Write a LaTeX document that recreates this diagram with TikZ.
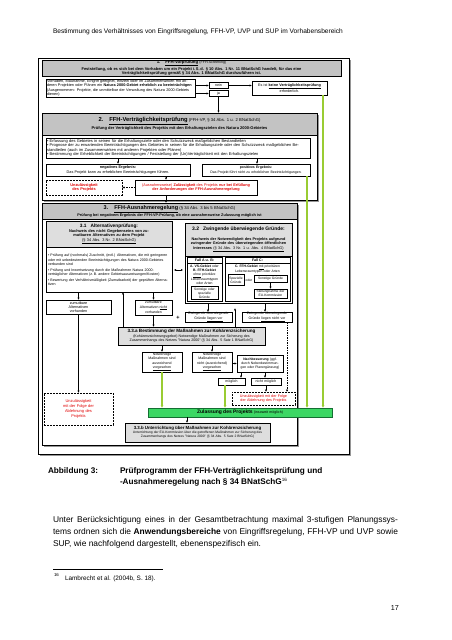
\documentclass[tikz,border=0pt]{standalone}
\usepackage{fontspec}
\setmainfont{Liberation Sans}
\usetikzlibrary{arrows.meta}
\definecolor{hdrgray}{RGB}{195,195,195}
\definecolor{lgray}{RGB}{222,222,222}
\definecolor{shgray}{RGB}{150,150,150}
\definecolor{lgreen}{RGB}{153,204,51}
\definecolor{zgreen}{RGB}{60,215,100}
\definecolor{dgreen}{RGB}{20,110,50}
\definecolor{ured}{RGB}{225,0,0}
\newcommand\fz[2]{\fontsize{#1pt}{#2pt}\selectfont}
\newcommand\mkbox[7]{%
 \pgfmathsetmacro\bxw{(#4)-(#2)}%
 \pgfmathsetmacro\bxh{(#5)-(#3)}%
 \pgfmathsetmacro\bxcx{((#2)+(#4))/2}%
 \pgfmathsetmacro\bxcy{((#3)+(#5))/2}%
 \pgfmathsetmacro\bxtw{(#4)-(#2)-2}%
 \node[#6, minimum width=\bxw pt, minimum height=\bxh pt, text width=\bxtw pt] (#1) at (\bxcx,\bxcy) {#7};%
}
\newcommand\shad[4]{\fill[shgray] (#1+2,#2+2) rectangle (#3+2,#4+2);}
\begin{document}
\begin{tikzpicture}[x=1pt,y=-1pt,
 nb/.style={inner xsep=1pt, inner ysep=0.3pt, align=center, font=\fz{3.6}{4.3}, outer sep=0pt},
 bx/.style={nb, draw=black, line width=0.5pt},
 hb/.style={bx, fill=hdrgray},
 lb/.style={bx, fill=lgray},
 dbx/.style={nb, draw=black, line width=0.9pt, dash pattern=on 1.8pt off 1.2pt, text=ured, font=\fz{3.7}{4.4}},
 arr/.style={-{Latex[length=2.4pt,width=2.2pt]}, line width=0.6pt},
 darr/.style={arr, dash pattern=on 1.5pt off 1pt},
 garr/.style={-{Latex[length=3pt,width=3pt]}, draw=lgreen, line width=1.1pt, color=lgreen},
 txt/.style={anchor=base west, inner sep=0pt, outer sep=0pt}
]
\useasboundingbox (0,0) rectangle (452,640);
\fill[white] (0,0) rectangle (452,640);

% page header
\node[txt, font=\fz{6.6}{8}] (pghead) at (53,33) {Bestimmung des Verhältnisses von Eingriffsregelung, FFH-VP, UVP und SUP im Vorhabensbereich};

% outer frame
\shad{38}{58}{349}{454}
\mkbox{frame}{38}{58}{349}{454}{bx, fill=white, line width=0.7pt}{}

% ---------- section 1
\mkbox{s1h}{42}{60}{341}{76}{hb}{{\fz{4.3}{5}\bfseries 1.\hspace{5pt}\underline{FFH-Vorprüfung}}\ {\fz{3.6}{5}(FFH-Screening)}\\[0.6pt]{\fz{4}{4.8}\bfseries Feststellung, ob es sich bei dem Vorhaben um ein Projekt i.\,S.\,d. § 10 Abs. 1 Nr. 11 BNatSchG handelt, für das eine\\ Verträglichkeitsprüfung gemäß § 34 Abs. 1 BNatSchG durchzuführen ist.}}
\mkbox{s1q}{46}{79}{195}{97}{bx, line width=1pt, align=left, font=\fz{3.8}{4.2}}{Vorhaben, Maßnahme, Eingriff geeignet, einzeln oder im Zusammenwirken mit anderen Projekten oder Plänen ein \textbf{Natura 2000-Gebiet erheblich zu beeinträchtigen} (Ausgenommen: Projekte, die unmittelbar der Verwaltung des Natura 2000-Gebiets dienen)}
\mkbox{nein}{209}{82.5}{228}{88.5}{bx, line width=0.7pt}{nein}
\mkbox{ja}{209}{90.5}{228}{96.5}{bx, line width=0.7pt}{ja}
\mkbox{keine}{252}{81.5}{327}{95}{bx, line width=0.7pt, font=\fz{3.7}{4.6}}{Es ist \underline{\textbf{keine Verträglichkeitsprüfung}}\\ erforderlich.}
\draw[arr] (s1q.east |- nein) -- (nein.west);
\draw[arr] (s1q.east |- ja) -- (ja.west);
\draw[arr] (nein.east) -- (keine.west |- nein);

% ---------- section 2
\shad{42}{113}{317}{200}
\mkbox{s2}{42}{113}{317}{200}{bx, fill=white}{}
\mkbox{s2h}{42}{113}{317}{135}{hb}{{\fz{5.8}{7}\bfseries 2.\hspace{6pt}\underline{FFH-Verträglichkeitsprüfung}}\ {\fz{4.2}{7}(FFH-VP, § 34 Abs. 1 u. 2 BNatSchG)}\\[0.5pt]{\fz{4}{5}\bfseries Prüfung der Verträglichkeit des Projekts mit den Erhaltungszielen des Natura 2000-Gebietes}}
\draw[arr] (ja.south) -- (ja.south |- s2.north);
\mkbox{s2b}{46}{138}{310}{158}{bx, align=left, font=\fz{4}{4.5}}{\textbullet\ Erfassung des Gebietes in seinen für die Erhaltungsziele oder den Schutzzweck maßgeblichen Bestandteilen\\ \textbullet\ Prognose der zu erwartenden Beeinträchtigungen des Gebietes in seinen für die Erhaltungsziele oder den Schutzzweck maßgeblichen Bestandteilen (auch im Zusammenwirken mit anderen Projekten oder Plänen)\\ \textbullet\ Bestimmung der Erheblichkeit der Beeinträchtigungen / Feststellung der (Un)Verträglichkeit mit den Erhaltungszielen}
\mkbox{neg}{46}{164}{190}{176}{bx, font=\fz{3.8}{4.5}}{\textbf{negatives Ergebnis:}\\ Das Projekt kann zu erheblichen Beeinträchtigungen führen.}
\mkbox{pos}{202}{164}{310}{176}{bx, font=\fz{3.5}{4.4}}{\textbf{positives Ergebnis:}\\ Das Projekt führt nicht zu erheblichen Beeinträchtigungen.}
\coordinate (xn) at (118,0);
\coordinate (xp) at (257,0);
\draw[arr] (s2b.south -| xn) -- (neg.north -| xn);
\draw[arr] (s2b.south -| xp) -- (pos.north -| xp);
\mkbox{ub1}{46}{180}{122}{195}{dbx, font=\fz{3.9}{4.7}\bfseries}{Unzulässigkeit\\ des Projekts}
\mkbox{rb}{135}{180}{257}{195}{bx, text=ured, font=\fz{3.8}{4.8}}{(Ausnahmsweise) \textbf{Zulässigkeit} des Projekts \textbf{nur bei Erfüllung}\\ \textbf{der Anforderungen der FFH-Ausnahmeregelung}}
\coordinate (xr) at (166,0);
\draw[arr] (neg.south -| xr) -- (rb.north -| xr);
\draw[darr] (rb.west) -- (ub1.east);

% ---------- section 3
\shad{42}{203}{297}{445}
\mkbox{s3}{42}{203}{297}{445}{bx, fill=white}{}
\mkbox{s3h}{42}{203}{297}{219.5}{hb}{{\fz{5.5}{6.5}\bfseries 3.\hspace{6pt}\underline{FFH-Ausnahmeregelung}}\ {\fz{4.2}{6}(§ 34 Abs. 3 bis 5 BNatSchG)}\\[0.3pt]{\fz{3.8}{4.6}\bfseries Prüfung bei negativem Ergebnis der FFH-VP-Prüfung, ob eine ausnahmsweise Zulassung möglich ist}}
\draw[arr] (rb.south -| xr) -- (s3.north -| xr);

% 3.1
\mkbox{s31}{46}{221}{172}{292}{bx, fill=white}{}
\mkbox{s31h}{46}{221}{172}{247.5}{lb, font=\fz{3.9}{4.6}}{{\fz{4.8}{5.6}\bfseries 3.1\hspace{4pt}Alternativenprüfung:}\\ {\bfseries Nachweis des nicht Gegebenseins von zumutbaren Alternativen zu dem Projekt}\\ \underline{(§ 34 Abs. 3 Nr. 2 BNatSchG)}}
\mkbox{s31b}{47}{248}{171}{292}{nb, align=left, font=\fz{3.6}{4.3}}{\textbullet\ Prüfung auf (nochmals) Zuschnitt, (evtl.) Alternativen, die mit geringeren oder mit unbedeutenden Beeinträchtigungen des Natura 2000-Gebietes verbunden sind\\[1.5pt] \textbullet\ Prüfung und Inwertsetzung durch die Maßnahmen Natura 2000-verträglicher Alternativen (z.\,B. andere Gebietsausweisungen/Kosten)\\[1.5pt] \textbullet\ Bewertung der Verhältnismäßigkeit (Zumutbarkeit) der geprüften Alternativen}

% 3.2
\mkbox{s32}{185}{223}{292}{303}{bx, fill=white}{}
\mkbox{s32h}{185}{223}{292}{256}{lb, font=\fz{3.8}{4.6}}{{\fz{5}{6}\bfseries 3.2\hspace{4pt}Zwingende überwiegende Gründe:}\\[5pt]{\bfseries Nachweis der Notwendigkeit des Projekts aufgrund zwingender Gründe des überwiegenden öffentlichen Interesses} \underline{(§ 34 Abs. 3 Nr. 1 u. Abs. 4 BNatSchG)}}
\coordinate (lr) at (0,270);
\draw[{Latex[length=2pt,width=2pt]}-{Latex[length=2pt,width=2pt]}, line width=0.5pt, shorten <=2pt, shorten >=2pt] (s31.east |- lr) -- (s32.west |- lr);

% Fall A u. B
\mkbox{fab}{187}{257.5}{222}{301}{bx, fill=white}{}
\coordinate (fabl) at (187,263.5);
\draw[line width=0.5pt] (fabl) -- (fabl -| fab.east);
\node[nb, font=\fz{3.6}{4.3}\bfseries] (fabh) at (204.5,260.5) {Fall A u. B:};
\node[nb, font=\fz{3.4}{4}, text width=33pt] (fabt) at (204.5,275) {\textbf{A. VS-Gebiet} oder\\ \textbf{B. FFH-Gebiet}\\ \underline{ohne} prioritäre\\ Lebensraumtypen\\ oder Arten};
\mkbox{sog}{191}{286.5}{218}{299.5}{bx, line width=0.9pt, font=\fz{3.3}{4}}{Sonstige oder\\ spezielle\\ Gründe}

% Fall C
\mkbox{fc}{225}{257.5}{290}{301}{bx, fill=white}{}
\coordinate (fcl) at (225,263.5);
\draw[line width=0.5pt] (fcl) -- (fcl -| fc.east);
\node[nb, font=\fz{3.6}{4.3}\bfseries] (fch) at (257.5,260.5) {Fall C:};
\node[nb, font=\fz{3.4}{4}, text width=62pt] (fct) at (257.5,269.3) {\textbf{C. FFH-Gebiet} \underline{mit} prioritären\\ Lebensraumtypen oder Arten};
\mkbox{spg}{228}{274.5}{244}{285.5}{bx, line width=0.9pt, font=\fz{3.3}{4}}{Spezielle\\ Gründe}
\node[nb, font=\fz{3.3}{4}] (oder) at (249,280) {oder};
\mkbox{sg}{254}{275.5}{287}{282.5}{bx, line width=0.9pt, font=\fz{3.3}{4}}{Sonstige Gründe}
\mkbox{stn}{254}{289}{287}{298.5}{bx, line width=0.9pt, font=\fz{3.3}{4}}{Stellungnahme der\\ EU-Kommission}
\draw[arr] (sg.south) -- (stn.north);

% results of 3.1 / 3.2
\mkbox{zav}{46}{300}{111}{314}{bx, font=\fz{3.7}{4.3}}{zumutbare\\ Alternativen\\ vorhanden}
\mkbox{zan}{135}{300}{172}{315}{bx, font=\fz{3.5}{4.3}}{zumutbare\\ Alternativen \underline{nicht}\\ vorhanden}
\draw[arr] (s31.south -| zav) -- (zav.north);
\draw[arr] (s31.south -| zan) -- (zan.north);
\node[nb, font=\fz{5.5}{5.5}\bfseries] (plus) at (178,318) {+};
\mkbox{zgv}{185}{312}{232}{322}{bx, font=\fz{3.5}{4.3}}{Zwingende überwiegende\\ Gründe \underline{liegen vor}}
\mkbox{zgn}{242}{312}{292}{322}{bx, font=\fz{3.5}{4.3}}{Zwingende überwiegende\\ Gründe \underline{liegen nicht vor}}
\coordinate (xa) at (208,0);
\coordinate (xc) at (265,0);
\draw[arr] (s32.south -| xa) -- (zgv.north -| xa);
\draw[arr] (s32.south -| xc) -- (zgn.north -| xc);

% 3.3a
\mkbox{s33a}{118}{327}{265}{345}{lb, font=\fz{3.6}{4.4}}{{\fz{4.6}{5.6}\bfseries 3.3.a Bestimmung der Maßnahmen zur Kohärenzsicherung}\\ (Kohärenzsicherungsgebot) Notwendige Maßnahmen zur Sicherung des\\ Zusammenhangs des Netzes "Natura 2000" (§ 34 Abs. 5 Satz 1 BNatSchG)}
\draw[arr] (zan.south) -- (s33a.north -| zan);
\coordinate (xu) at (123,0);
\draw[arr] (s33a.north -| xu) -- (s31.south -| xu);
\coordinate (vtop) at (235,308);
\draw[arr] (s33a.north -| vtop) -- (vtop);

% measures
\mkbox{nma}{142}{352}{182}{372}{bx, font=\fz{3.5}{4.3}}{Notwendige\\ Maßnahmen sind\\ ausreichend\\ \underline{vorgesehen}}
\mkbox{nmb}{192}{352}{232}{372}{bx, font=\fz{3.5}{4.3}}{Notwendige\\ Maßnahmen sind\\ nicht (ausreichend)\\ \underline{vorgesehen}}
\draw[arr] (s33a.south -| nma) -- (nma.north);
\draw[arr] (s33a.south -| nmb) -- (nmb.north);
\mkbox{nachb}{237}{355}{283}{372}{bx, font=\fz{3.4}{4.2}}{\textbf{Nachbesserung} (ggf.\\ durch Nebenbestimmun-\\ gen oder Planergänzung)}
\draw[arr] (nmb.east |- nachb) -- (nachb.west);
\mkbox{mog}{218}{378}{245}{385}{bx, font=\fz{3.5}{4.3}}{möglich}
\mkbox{nmog}{251}{378}{281}{385}{bx, line width=1pt, font=\fz{3.5}{4.3}}{nicht möglich}
\coordinate (xm) at (241,0);
\coordinate (xnm) at (265,0);
\draw[arr] (nachb.south -| xm) -- (mog.north -| xm);
\draw[arr] (nachb.south -| xnm) -- (nmog.north -| xnm);
\mkbox{ub3}{232}{392}{295}{405}{dbx}{Unzulässigkeit mit der Folge\\ der Ablehnung des Projekts}
\draw[arr] (nmog.south) -- (ub3.north -| nmog);
\coordinate (xd) at (287,0);
\draw[darr] (zgn.south -| xd) -- (ub3.north -| xd);
\mkbox{ub2}{44}{393}{113}{425}{dbx, font=\fz{4}{4.8}}{Unzulässigkeit\\ mit der Folge der\\ Ablehnung des\\ Projekts}
\draw[arr] (zav.south) -- (ub2.north -| zav);

% Zulassung
\mkbox{zul}{148}{408}{332}{417}{bx, fill=zgreen, draw=dgreen, line width=0.7pt}{{\fz{5}{6}\bfseries Zulassung des Projekts} {\fz{3.6}{6}(insoweit möglich)}}
\coordinate (g1) at (162,0);
\coordinate (g2) at (225,0);
\coordinate (g3) at (307,0);
\coordinate (g4) at (323,0);
\draw[garr] (nma.south -| g1) -- (zul.north -| g1);
\draw[garr] (mog.south -| g2) -- (zul.north -| g2);
\draw[garr] (pos.south -| g3) -- (zul.north -| g3);
\draw[garr] (keine.south -| g4) -- (zul.north -| g4);

% 3.3b
\mkbox{s33b}{125}{423}{270}{442}{lb, font=\fz{3.3}{4}}{{\fz{4.4}{5.4}\bfseries 3.3.b Unterrichtung über Maßnahmen zur Kohärenzsicherung}\\ Unterrichtung der EU-Kommission über die getroffenen Maßnahmen zur Sicherung des\\ Zusammenhangs des Netzes "Natura 2000" (§ 34 Abs. 5 Satz 2 BNatSchG)}
\coordinate (xz) at (187,0);
\draw[arr] (zul.south -| xz) -- (s33b.north -| xz);

% caption
\node[txt, font=\fz{8.2}{10}\bfseries] (cap1) at (48,473) {Abbildung 3:};
\node[txt, font=\fz{8.2}{10}\bfseries] (cap2) at (120,473) {Prüfprogramm der FFH-Verträglichkeitsprüfung und};
\node[txt, font=\fz{8.2}{10}\bfseries] (cap3) at (120,484) {-Ausnahmeregelung nach § 34 BNatSchG\textsuperscript{\fz{4.6}{5}\mdseries 16}};

% body text
\node[txt, font=\fz{8.4}{12}] (l1) at (53,522) {\makebox[345pt][s]{Unter Berücksichtigung eines in der Gesamtbetrachtung maximal 3-stufigen Planungssys-}};
\node[txt, font=\fz{8.4}{12}] (l2) at (53,534.3) {\makebox[345pt][s]{tems ordnen sich die \textbf{Anwendungsbereiche} von Eingriffsregelung, FFH-VP und UVP sowie}};
\node[txt, font=\fz{8.4}{12}] (l3) at (53,546.6) {SUP, wie nachfolgend dargestellt, ebenenspezifisch ein.};

% footnote
\coordinate (fr1) at (53,569);
\coordinate (fr2) at (163,569);
\draw[line width=0.5pt] (fr1) -- (fr2);
\node[txt, font=\fz{4.4}{5}] (fnm) at (54,576.5) {16};
\node[txt, font=\fz{6.4}{7}] (fn) at (65,580.5) {Lambrecht et al. (2004b, S. 18).};

% page number
\node[anchor=base east, inner sep=0pt, font=\fz{7.2}{8}] (pno) at (399,610) {17};
\end{tikzpicture}
\end{document}
